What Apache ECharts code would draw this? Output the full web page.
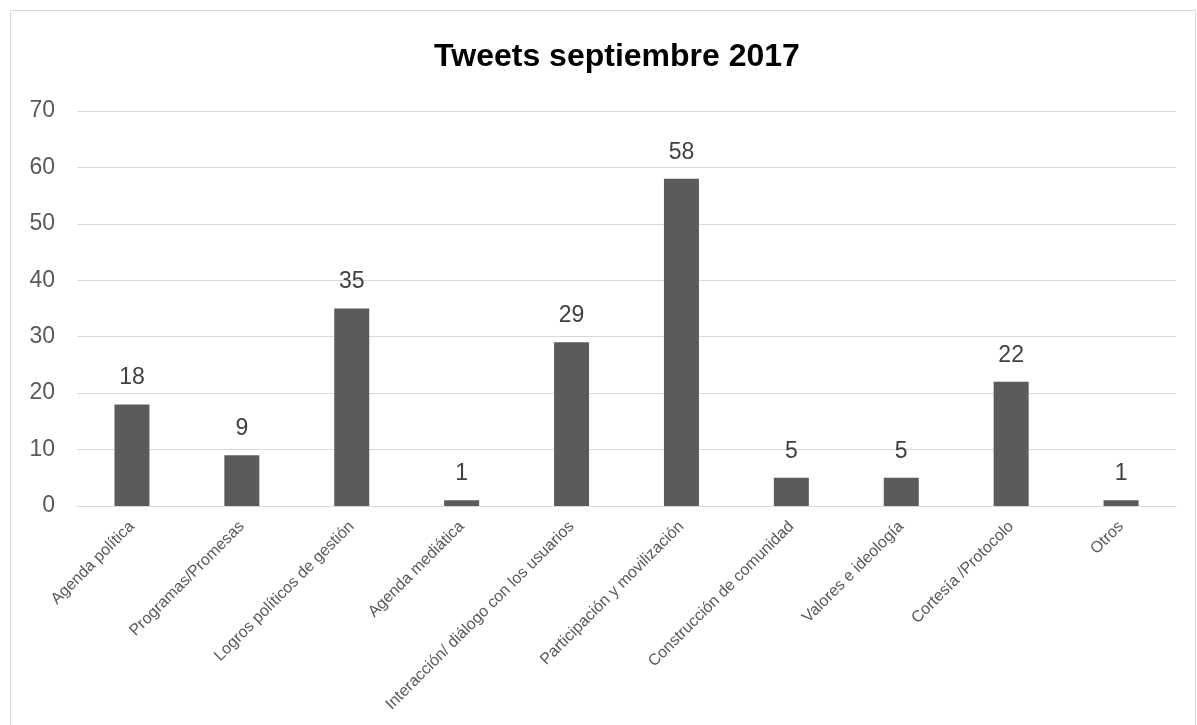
<!DOCTYPE html>
<html>
<head>
<meta charset="utf-8">
<script src="https://cdn.jsdelivr.net/npm/echarts@6/dist/echarts.min.js"></script>
<style>
  html, body { margin: 0; padding: 0; background: #ffffff; }
  #chart { width: 1197px; height: 725px; }
</style>
</head>
<body>
<div id="chart"></div>
<script>
// Tweet counts by content category, September 2017
const categories = [
  'Agenda política',
  'Programas/Promesas',
  'Logros políticos de gestión',
  'Agenda mediática',
  'Interacción/ diálogo con los usuarios',
  'Participación y movilización',
  'Construcción de comunidad',
  'Valores e ideología',
  'Cortesía /Protocolo',
  'Otros'
];
const tweets = [18, 9, 35, 1, 29, 58, 5, 5, 22, 1];
const yTicks = { min: 0, max: 70, interval: 10 };

const chart = echarts.init(document.getElementById('chart'), null, { renderer: 'canvas' });

chart.setOption({
  animation: false,
  backgroundColor: '#ffffff',
  graphic: [{
    type: 'rect',
    shape: { x: 10.5, y: 10.5, width: 1185, height: 800 },
    style: { fill: 'none', stroke: '#d9d9d9', lineWidth: 1 },
    silent: true,
    z: -10
  }],
  title: {
    text: 'Tweets septiembre 2017',
    left: 612,
    top: 36,
    textAlign: 'center',
    textStyle: {
      fontFamily: 'Liberation Sans, Arial, sans-serif',
      fontSize: 32,
      fontWeight: 'bold',
      color: '#000000'
    }
  },
  grid: { left: 77, right: 21, top: 111, bottom: 219, containLabel: false },
  xAxis: {
    type: 'category',
    data: categories,
    axisLine: { show: true, lineStyle: { color: '#d9d9d9', width: 1 } },
    axisTick: { show: false },
    axisLabel: {
      interval: 0,
      rotate: 45,
      margin: 18,
      color: '#595959',
      fontFamily: 'Liberation Sans, Arial, sans-serif',
      fontSize: 16
    }
  },
  yAxis: {
    type: 'value',
    min: yTicks.min,
    max: yTicks.max,
    interval: yTicks.interval,
    axisLine: { show: false },
    axisTick: { show: false },
    splitLine: { lineStyle: { color: '#d9d9d9', width: 1 } },
    axisLabel: {
      margin: 22,
      color: '#595959',
      fontFamily: 'Liberation Sans, Arial, sans-serif',
      fontSize: 23
    }
  },
  series: [{
    type: 'bar',
    data: tweets,
    barWidth: 35,
    itemStyle: { color: '#5b5b5b' },
    label: {
      show: true,
      position: 'top',
      distance: 15,
      color: '#404040',
      fontFamily: 'Liberation Sans, Arial, sans-serif',
      fontSize: 23
    }
  }]
});
</script>
</body>
</html>
